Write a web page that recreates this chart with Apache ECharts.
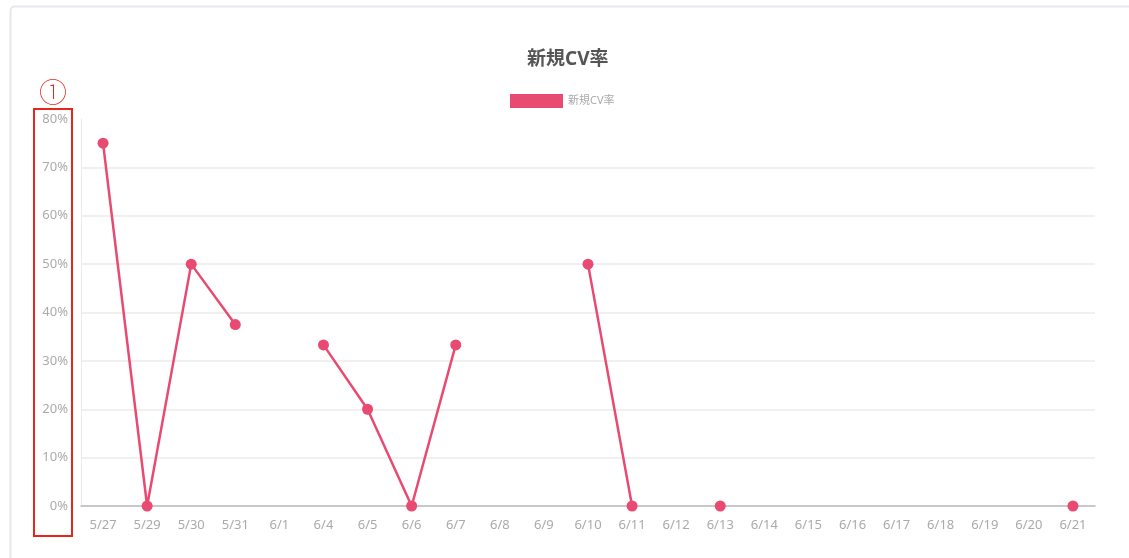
<!DOCTYPE html>
<html>
<head>
<meta charset="utf-8">
<script src="https://cdn.jsdelivr.net/npm/echarts@6/dist/echarts.min.js"></script>
<style>
html,body{margin:0;padding:0;background:#fff;}
#chart{width:1129px;height:558px;}
</style>
</head>
<body>
<div id="chart"></div>
<script>
const titleText = '新規CV率';
const seriesName = '新規CV率';
const categories = ['5/27','5/29','5/30','5/31','6/1','6/4','6/5','6/6','6/7','6/8','6/9','6/10','6/11','6/12','6/13','6/14','6/15','6/16','6/17','6/18','6/19','6/20','6/21'];
const cvRate = [75, 0, 50, 37.5, null, 33.3, 20, 0, 33.3, null, null, 50, 0, null, 0, null, null, null, null, null, null, null, 0];
const yTicks = [0, 10, 20, 30, 40, 50, 60, 70, 80];

const chart = echarts.init(document.getElementById('chart'));
const lineColor = '#E94A71';
const font = '"Noto Sans", "Noto Sans CJK JP", sans-serif';
chart.setOption({
  animation: false,
  textStyle: { fontFamily: font },
  title: {
    text: titleText,
    left: 522, top: 45,
    textStyle: { fontSize: 19, fontWeight: 'bold', color: '#555', fontFamily: font }
  },
  legend: {
    data: [seriesName],
    left: 505, top: 89,
    itemWidth: 53, itemHeight: 14, itemGap: 6,
    icon: 'rect',
    textStyle: { fontSize: 11, color: '#aaa', fontFamily: font }
  },
  grid: { left: 81, right: 34, top: 119, bottom: 52, containLabel: false },
  xAxis: {
    type: 'category',
    data: categories,
    boundaryGap: true,
    axisLine: { show: true, lineStyle: { color: '#bbb', width: 1.5 } },
    axisTick: { show: false },
    axisLabel: { color: '#aaa', fontSize: 13, margin: 13, interval: 0 },
    splitLine: { show: false }
  },
  yAxis: {
    type: 'value',
    min: yTicks[0], max: yTicks[yTicks.length - 1], interval: 10,
    axisLine: { show: true, lineStyle: { color: '#ebebeb', width: 1 } },
    axisTick: { show: false },
    axisLabel: { color: '#aaa', fontSize: 13, margin: 13, formatter: v => v + '%' },
    splitLine: { show: true, showMaxLine: false, lineStyle: { color: '#ebebeb', width: 1.5 } }
  },
  series: [{
    name: seriesName,
    type: 'line',
    data: cvRate,
    connectNulls: false,
    symbol: 'circle',
    symbolSize: 11,
    showAllSymbol: true,
    itemStyle: { color: lineColor },
    lineStyle: { color: lineColor, width: 2.5 }
  }],
  graphic: [
    {
      type: 'rect', silent: true, z: -10,
      shape: { x: 10.5, y: 6.5, width: 1200, height: 600, r: 4 },
      style: { fill: 'none', stroke: '#e6e8ee', lineWidth: 2 }
    },
    {
      type: 'rect', silent: true, z: 100,
      shape: { x: 34, y: 109, width: 38, height: 427 },
      style: { fill: 'none', stroke: '#e8261b', lineWidth: 2 }
    },
    {
      type: 'text', silent: true, z: 100,
      x: 53, y: 92,
      style: { text: '①', fill: '#e8261b', fontSize: 28, fontWeight: 'lighter', fontFamily: '"Noto Sans CJK JP", sans-serif', align: 'center', verticalAlign: 'middle' }
    }
  ]
});
</script>
</body>
</html>
